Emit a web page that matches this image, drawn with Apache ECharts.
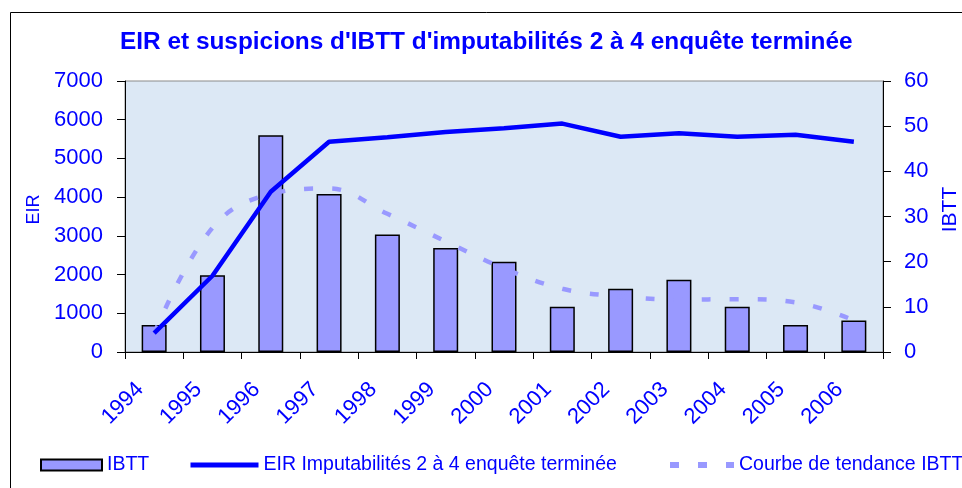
<!DOCTYPE html>
<html>
<head>
<meta charset="utf-8">
<script src="https://cdn.jsdelivr.net/npm/echarts@6/dist/echarts.min.js"></script>
<style>
  html, body { margin: 0; padding: 0; background: #fff; }
  #chart { width: 962px; height: 488px; }
</style>
</head>
<body>
<div id="chart"></div>
<script>
const years = ['1994', '1995', '1996', '1997', '1998', '1999', '2000', '2001', '2002', '2003', '2004', '2005', '2006']
const ibtt = [6, 17, 48, 35, 26, 23, 20, 10, 14, 16, 10, 6, 7]
const eir = [490, 1970, 4140, 5430, 5550, 5680, 5780, 5900, 5560, 5650, 5560, 5610, 5430]
const trend = [4, 27.5, 35, 36.2, 30.6, 24.5, 18.5, 14, 12.3, 11.6, 11.7, 11, 7]

const blue = '#0000ff'
const font = 'Liberation Sans, Arial, sans-serif'

const legendText = { color: blue, fontSize: 19.5, fontFamily: font }

const chart = echarts.init(document.getElementById('chart'))

chart.setOption({
  animation: false,
  backgroundColor: '#fff',
  graphic: [
    {
      type: 'rect',
      shape: { x: 10.5, y: 12.5, width: 960, height: 480 },
      style: { fill: 'none', stroke: '#000', lineWidth: 1 }
    }
  ],
  title: {
    text: "EIR et suspicions d'IBTT d'imputabilités 2 à 4 enquête terminée",
    left: 120,
    top: 30,
    padding: 0,
    textStyle: { color: blue, fontSize: 24.4, fontWeight: 'bold', fontFamily: font }
  },
  legend: [
    {
      data: [{ name: 'IBTT', icon: 'rect' }],
      left: 40, top: 455, padding: 0,
      itemWidth: 61, itemHeight: 11,
      textStyle: legendText
    },
    {
      data: ['EIR Imputabilités 2 à 4 enquête terminée'],
      left: 188, top: 455, padding: 0,
      itemWidth: 68, itemHeight: 11,
      itemStyle: { opacity: 0 },
      lineStyle: { width: 5 },
      textStyle: legendText
    },
    {
      data: ['Courbe de tendance IBTT'],
      left: 667, top: 455, padding: 0,
      itemWidth: 64, itemHeight: 11,
      itemStyle: { opacity: 0 },
      lineStyle: { width: 6, type: [9, 19] },
      textStyle: legendText
    }
  ],
  grid: {
    left: 125, right: 79, top: 81, bottom: 136,
    containLabel: false,
    outerBoundsMode: 'none',
    show: true,
    backgroundColor: '#dce8f5',
    borderColor: '#8a8a8a',
    borderWidth: 1
  },
  xAxis: {
    type: 'category',
    data: years,
    boundaryGap: true,
    axisLine: { lineStyle: { color: '#000', width: 1 } },
    axisTick: { show: true, length: 7, lineStyle: { color: '#000' } },
    axisLabel: {
      color: blue, fontSize: 22, fontFamily: font, rotate: 45,
      margin: 20, padding: [0, 20, 0, 0]
    }
  },
  yAxis: [
    {
      type: 'value',
      name: 'EIR',
      nameLocation: 'middle',
      nameGap: 74,
      nameTextStyle: { color: blue, fontSize: 18, fontFamily: font, padding: [0, 0, 0, 14] },
      min: 0, max: 7000, interval: 1000,
      axisLine: { show: true, lineStyle: { color: '#000' } },
      axisTick: { show: true, length: 8, lineStyle: { color: '#000' } },
      axisLabel: { color: blue, fontSize: 22, fontFamily: font, margin: 22, formatter: v => String(v) },
      splitLine: { show: false }
    },
    {
      type: 'value',
      name: 'IBTT',
      nameLocation: 'middle',
      nameGap: 56,
      nameTextStyle: { color: blue, fontSize: 21, fontFamily: font, padding: [0, 0, 0, 14] },
      min: 0, max: 60, interval: 10,
      axisLine: { show: true, lineStyle: { color: '#000' } },
      axisTick: { show: true, length: 8, lineStyle: { color: '#000' } },
      axisLabel: { color: blue, fontSize: 22, fontFamily: font, margin: 21 },
      splitLine: { show: false }
    }
  ],
  series: [
    {
      name: 'IBTT',
      type: 'bar',
      yAxisIndex: 1,
      data: ibtt,
      barWidth: 25,
      itemStyle: { color: '#9999ff', borderColor: '#000', borderWidth: 1.5 }
    },
    {
      name: 'EIR Imputabilités 2 à 4 enquête terminée',
      type: 'line',
      yAxisIndex: 0,
      data: eir,
      symbol: 'none',
      lineStyle: { color: blue, width: 4.5 },
      itemStyle: { color: blue },
      z: 3
    },
    {
      name: 'Courbe de tendance IBTT',
      type: 'line',
      yAxisIndex: 1,
      data: trend,
      smooth: 0.4,
      symbol: 'none',
      lineStyle: { color: '#9999ff', width: 4.5, type: [9, 19] },
      itemStyle: { color: '#9999ff' },
      z: 2
    }
  ]
})
</script>
</body>
</html>
